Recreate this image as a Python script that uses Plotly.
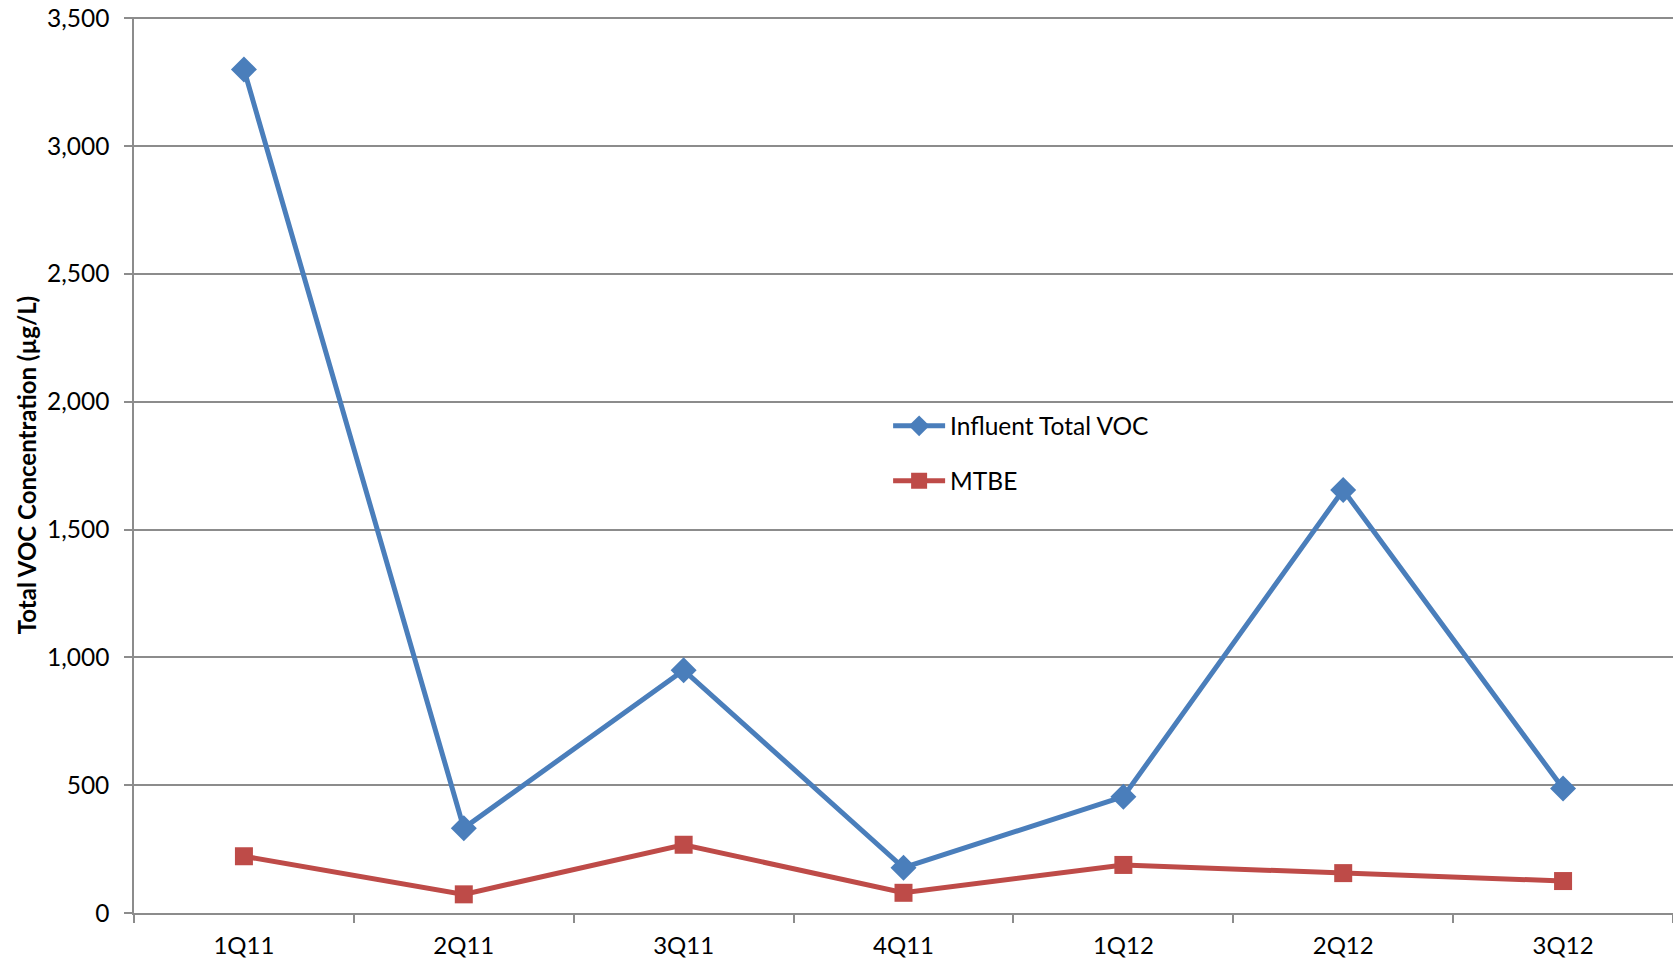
import plotly.graph_objects as go

quarters = ["1Q11", "2Q11", "3Q11", "4Q11", "1Q12", "2Q12", "3Q12"]
influent_voc = [3300, 332, 950, 177, 455, 1655, 487]
mtbe = [222, 73, 267, 79, 188, 156, 125]

blue = "#4a7ebb"
red = "#be4b48"
grid = "#8c8c8c"
font_family = "Lato, 'Open Sans', sans-serif"

fig = go.Figure()
fig.add_trace(go.Scatter(
    x=quarters, y=influent_voc, name="Influent Total VOC", mode="lines+markers",
    line=dict(color=blue, width=5),
    marker=dict(symbol="diamond", size=20, color=blue),
    legendgroup="a",
))
fig.add_trace(go.Scatter(
    x=quarters, y=mtbe, name="MTBE", mode="lines+markers",
    line=dict(color=red, width=5),
    marker=dict(symbol="square", size=18, color=red),
    legendgroup="b",
))

fig.update_layout(
    width=1673, height=962,
    margin=dict(l=134, r=0, t=17, b=49, autoexpand=False),
    plot_bgcolor="white", paper_bgcolor="white",
    font=dict(family=font_family, size=24, color="black"),
    showlegend=True,
    legend=dict(
        x=0.49, y=0.513, xanchor="left", yanchor="middle",
        traceorder="grouped", tracegroupgap=20,
        font=dict(size=24.5), bgcolor="rgba(0,0,0,0)",
        itemwidth=52,
    ),
    xaxis=dict(
        type="category", range=[-0.5, 6.5], automargin=False,
        showgrid=False, showline=True, linecolor=grid, linewidth=1.5,
        ticks="outside", tickson="boundaries", ticklen=8, tickcolor=grid, tickwidth=1.5,
        tickfont=dict(size=24), ticklabelstandoff=10,
    ),
    yaxis=dict(
        range=[0, 3505], tickvals=[0, 500, 1000, 1500, 2000, 2500, 3000, 3500],
        tickformat=",d", ticklabeloverflow="allow", automargin=False,
        showgrid=True, gridcolor=grid, gridwidth=1.5,
        showline=True, linecolor=grid, linewidth=1.5,
        zeroline=True, zerolinecolor=grid, zerolinewidth=1.5,
        ticks="outside", ticklen=8, tickcolor=grid, tickwidth=1.5,
        tickfont=dict(size=24.5), ticklabelstandoff=10,
        title=dict(text="<b>Total VOC Concentration (µg/L)</b>", font=dict(size=24), standoff=4),
    ),
)

fig.write_html(
    "out.html",
    config={"displayModeBar": False},
    post_script="document.body.style.margin='0';",
)
